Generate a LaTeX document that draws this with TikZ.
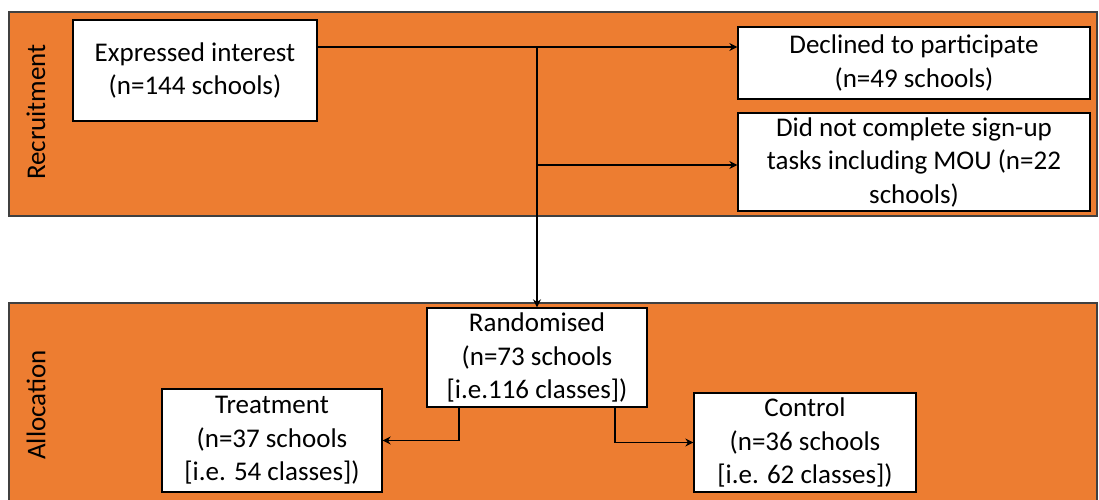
\documentclass[tikz,border=0pt]{standalone}
\usepackage{fontspec}
\setmainfont{Carlito}
\usetikzlibrary{arrows.meta}
\definecolor{bandorange}{HTML}{ED7D31}

\begin{document}
\begin{tikzpicture}[x=1pt,y=-1pt,
  font=\fontsize{27}{33.5}\selectfont,
  link/.style={line width=1.3pt},
  arr/.style={line width=1.3pt,-{Stealth[length=8pt,width=8pt]}}]
\useasboundingbox (0,0) rectangle (1099,499);
% stage bands
\draw [fill=bandorange,draw=black!75,line width=1.5pt] (9,12) rectangle (1097,216);
\draw [fill=bandorange,draw=black!75,line width=1.5pt] (9,303) rectangle (1097,510);
\node [rotate=90] (recr) at (36,112) {Recruitment};
\node [rotate=90] (alloc) at (36,405) {Allocation};
\begin{scope}[every node/.style={draw,fill=white,line width=1.3pt,align=center,inner sep=0pt}]
\node [minimum width=244pt,minimum height=101pt] (exp) at (195,70.5) {Expressed interest\\(n=144 schools)};
\node [minimum width=352pt,minimum height=72pt] (dec) at (914,63) {Declined to participate\\(n=49 schools)};
\node [minimum width=352pt,minimum height=98pt] (inc) at (914,162) {Did not complete sign-up\\tasks including MOU (n=22\\schools)};
\node [minimum width=220pt,minimum height=99pt] (rand) at (537,357.5) {Randomised\\(n=73 schools\\{[i.e.116 classes])}};
\node [minimum width=220pt,minimum height=103pt] (treat) at (272,440.5) {Treatment\\(n=37 schools\\{[i.e. 54 classes])}};
\node [minimum width=222pt,minimum height=99pt] (ctrl) at (805,442.5) {Control\\(n=36 schools\\{[i.e. 62 classes])}};
\end{scope}
\coordinate (split) at (537,47);
\coordinate (fork) at (537,165);
\coordinate (tleft) at (459,0);
\coordinate (tright) at (615,0);
\draw [link] (exp.east |- split) -- (split);
\draw [arr] (split) -- (dec.west |- split);
\draw [arr] (fork) -- (inc.west |- fork);
\draw [arr] (split) -- (rand.north);
\draw [arr] (rand.south -| tleft) |- (treat.east);
\draw [arr] (rand.south -| tright) |- (ctrl.west);
\end{tikzpicture}
\end{document}
